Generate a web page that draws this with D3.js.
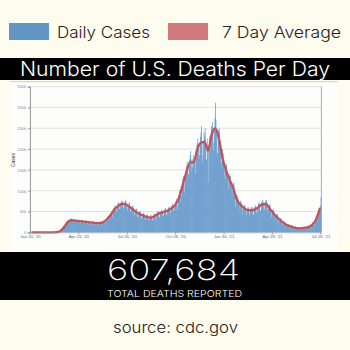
<!DOCTYPE html>
<html><head><meta charset="utf-8">
<script src="https://cdn.jsdelivr.net/npm/d3@7/dist/d3.min.js"></script>
<style>html,body{margin:0;padding:0;background:#fefbef;}svg{display:block;}</style>
</head><body><svg id="c" width="350" height="350"></svg>
<script>
// Daily reported cases (thousands), one row per week starting Mon Jan 20 '20
const dailyCases = [
 0,0,0,0,0,0,0, 0,0,0,0,0,0,0, 0,0,0,0,0,0,0, 0,0,0,0,0,0,0,
 0,0,0,0,0,0,0, 0,0,0,0,0,0,0, 0,0,0,0,0,0,0, 0,0,0,0,0.1,0.2,0.4,
 0.8,1.2,2,3,4,5,6, 8,9,11,13,14,15,14, 19,22,24,26,28,27,22, 27,30,31,32,33,29,25,
 26,28,30,30,32,28,24, 24,27,29,30,31,26,22, 23,26,28,29,30,25,21, 22,25,27,28,29,25,20,
 21,24,26,27,28,24,18, 19,22,25,27,26,23,18, 18,21,24,25,26,22,17, 18,21,24,25,26,23,17,
 20,23,26,28,30,27,21, 25,30,33,36,38,34,28, 33,40,44,46,50,45,36, 45,52,58,60,65,58,48,
 52,60,66,70,72,65,55, 56,66,72,75,76,70,60, 57,68,72,76,77,68,58, 52,62,66,70,72,62,50,
 47,56,60,63,64,55,47, 41,50,53,56,57,49,37, 36,45,48,50,51,44,34, 32,40,44,46,47,40,31,
 30,37,40,42,43,38,29, 27,34,38,40,42,36,28, 30,38,41,43,45,40,29, 35,44,47,50,52,46,34,
 38,47,50,53,55,48,38, 40,50,53,56,58,52,41, 43,53,56,59,62,55,43, 48,58,62,66,69,61,49,
 52,66,70,74,80,72,55, 65,82,90,96,102,88,72, 88,112,122,130,135,123,95, 115,140,150,160,170,150,130,
 140,165,175,185,195,175,145, 155,175,185,160,170,180,140, 170,195,210,215,225,205,175, 185,215,230,240,255,215,170,
 185,215,240,232,250,225,175, 175,205,225,210,120,205,230, 200,235,255,245,265,250,195, 215,250,275,311,270,250,185,
 190,235,245,250,240,220,195, 150,170,190,200,190,180,165, 130,150,160,165,160,140,130, 105,125,135,140,135,125,110,
 85,100,115,120,115,105,95, 60,75,85,90,85,80,70, 52,65,72,76,72,68,57, 45,57,63,66,65,60,50,
 41,52,57,60,60,54,45, 40,52,58,60,62,55,44, 42,55,60,62,64,56,46, 47,60,66,70,71,62,51,
 52,66,73,76,78,68,56, 54,68,74,77,78,70,55, 45,58,64,66,67,58,48, 36,47,52,54,55,48,37,
 28,37,41,43,44,38,28, 22,29,32,34,34,30,22, 16,22,25,26,26,23,16, 12,17,19,20,20,18,13,
 9,14,16,17,17,14,11, 7,11,13,13,14,11,8, 6,9,11,11,12,10,7, 6,10,11,12,12,10,9,
 7,11,12,13,13,11,10, 8,13,15,16,16,13,10, 12,18,21,23,24,20,15, 20,30,35,38,40,34,27,
 40,52,58,62,64,85
];
// 7-day average (thousands), one value per week (mid-week)
const weeklyAverage = [
 0,0,0,0,0,0,0,0.3,3,12,24,29,28,27,26,25,24,23,22,22,
 25,32,42,55,63,68,68,62,56,49,44,40,37,35,38,44,47,50,53,59,
 67,85,115,145,168,168,200,215,217,196,235,250,225,178,148,125,105,78,66,58,
 53,53,55,61,67,68,58,47,37,29,22,17,14,11,9.5,10,11,13,19,32,
 58
];
const yTicks = [0,50,100,150,200,250,300,350];
const xTickDays = [0,94,188,282,376,470,564];
const xTickLabels = ["Jan 20, '20","Apr 23, '20","Jul 26, '20","Oct 28, '20","Jan 30, '21","Apr 28, '21","Jul 26, '21"];
const legendItems = ["Daily Cases","7 Day Average"];

const svg = d3.select("#c");
const F = "Inter, 'Open Sans', sans-serif";
const blue = "#6699cb", red = "#c0545d";

// legend
const lg = svg.append("g");
const legCol = ["#6196c6", "#d07a7e"];
const legX = [9, 168], legTx = [57, 222], legW = [93, 119];
legendItems.forEach((t,i)=>{
  lg.append("rect").attr("x",legX[i]).attr("y",23).attr("width",40).attr("height",17).attr("fill",legCol[i]);
  lg.append("text").attr("x",legTx[i]).attr("y",37.5).attr("font-family",F).attr("font-size",16.5).attr("font-weight",300)
    .attr("fill","#222").attr("textLength",legW[i]).attr("lengthAdjust","spacingAndGlyphs").text(t);
});

// title band
svg.append("rect").attr("x",0).attr("y",58).attr("width",350).attr("height",22).attr("fill","#000");
svg.append("text").attr("x",20).attr("y",75.5).attr("font-family",F).attr("font-size",20).attr("font-weight",300)
  .attr("fill","#fff").attr("textLength",310).attr("lengthAdjust","spacingAndGlyphs").text("Number of U.S. Deaths Per Day");

// chart panel
svg.append("rect").attr("x",10).attr("y",81).attr("width",328).attr("height",1.5).attr("fill","#d8d8d8");
svg.append("rect").attr("x",10).attr("y",82.5).attr("width",328).attr("height",166).attr("fill","#fdfdfc");

const x = d3.scaleLinear().domain([0,564]).range([29.9,320.4]);
const y = d3.scaleLinear().domain([0,350]).range([232.3,86.6]);
const step = x(1)-x(0);

// grid
svg.append("g").selectAll("line").data(yTicks.slice(1)).join("line")
  .attr("x1",29.9).attr("x2",321.5).attr("y1",d=>y(d)).attr("y2",d=>y(d))
  .attr("stroke","#e3e3e3").attr("stroke-width",1);

// bars
svg.append("g").selectAll("rect").data(dailyCases).join("rect")
  .attr("x",(d,i)=>x(i)-step/2).attr("width",step+0.25)
  .attr("y",d=>y(d)).attr("height",d=>y(0)-y(d)).attr("fill",blue);

// 7 day average line
const line = d3.line().x((d,i)=>x(Math.min(i*7+3,565))).y(d=>y(d)).curve(d3.curveMonotoneX);
svg.append("path").datum(weeklyAverage).attr("d",line).attr("fill","none")
  .attr("stroke",red).attr("stroke-width",2.3).attr("stroke-linejoin","round");

// axes
const yAxis = d3.axisLeft(y).tickValues(yTicks).tickFormat(d=>d===0?"0":d+"k").tickSize(2).tickPadding(1.5);
const ga = svg.append("g").attr("transform","translate(29.9,0)").call(yAxis);
ga.select(".domain").attr("stroke","#777").attr("stroke-width",0.8);
ga.selectAll(".tick line").attr("stroke","#999");
ga.selectAll("text").attr("font-size",4.2).attr("fill","#7890b0").attr("font-family","Arial, sans-serif");

const xAxis = d3.axisBottom(x).tickValues(xTickDays).tickFormat((d,i)=>xTickLabels[i]).tickSize(2).tickPadding(1);
const gx = svg.append("g").attr("transform","translate(0,232.3)").call(xAxis);
gx.select(".domain").attr("stroke","#999").attr("stroke-width",0.6);
gx.selectAll(".tick line").attr("stroke","#999");
gx.selectAll("text").attr("font-size",4.2).attr("fill","#667").attr("font-family","Arial, sans-serif");

// right edge line
svg.append("line").attr("x1",x(564)+1).attr("x2",x(564)+1).attr("y1",86.6).attr("y2",232.3)
  .attr("stroke","#999").attr("stroke-width",0.8);

svg.append("text").attr("transform","translate(15,160) rotate(-90)").attr("text-anchor","middle")
  .attr("font-family","Arial, sans-serif").attr("font-size",5).attr("fill","#333").text("Cases");

// bottom band
svg.append("rect").attr("x",0).attr("y",252).attr("width",350).attr("height",48).attr("fill","#000");
svg.append("text").attr("x",107).attr("y",280).attr("font-family",F).attr("font-size",28).attr("font-weight",200)
  .attr("fill","#fff").attr("textLength",133).attr("lengthAdjust","spacingAndGlyphs").text("607,684");
svg.append("text").attr("x",107).attr("y",296.5).attr("font-family",F).attr("font-size",9.5).attr("font-weight",300)
  .attr("fill","#fff").attr("textLength",135).attr("lengthAdjust","spacingAndGlyphs").text("TOTAL DEATHS REPORTED");

svg.append("text").attr("x",113).attr("y",333).attr("font-family",F).attr("font-size",15).attr("font-weight",300)
  .attr("fill","#222").attr("textLength",125).attr("lengthAdjust","spacingAndGlyphs").text("source: cdc.gov");
</script></body></html>
